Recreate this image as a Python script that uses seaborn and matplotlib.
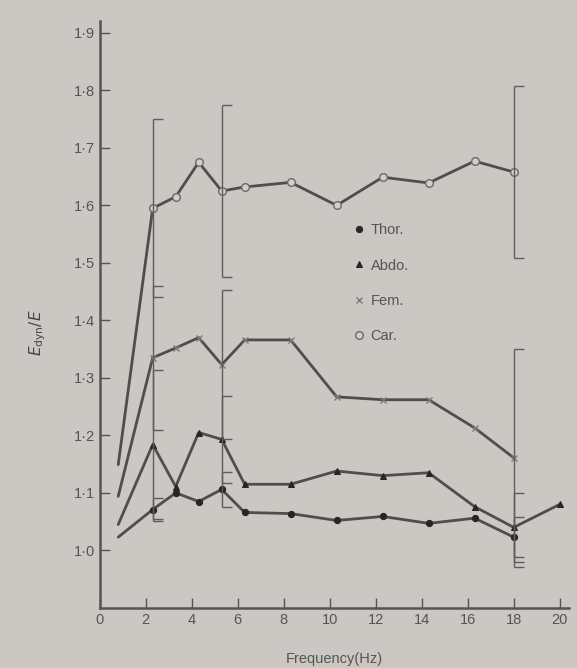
import matplotlib
matplotlib.use("Agg")
import matplotlib.pyplot as plt
import seaborn as sns
import pandas as pd

# ---- data ----
freq = [0.8, 2.3, 3.3, 4.3, 5.3, 6.3, 8.3, 10.3, 12.3, 14.3, 16.3, 18.0]
freq_abdo = freq + [20.0]
thor = [1.023, 1.071, 1.100, 1.085, 1.106, 1.066, 1.064, 1.052, 1.059, 1.047, 1.056, 1.023]
abdo = [1.045, 1.184, 1.111, 1.205, 1.193, 1.115, 1.115, 1.138, 1.130, 1.135, 1.076, 1.040, 1.080]
fem = [1.094, 1.335, 1.352, 1.370, 1.323, 1.366, 1.366, 1.267, 1.262, 1.262, 1.213, 1.161]
car = [1.149, 1.595, 1.615, 1.675, 1.625, 1.632, 1.640, 1.600, 1.649, 1.639, 1.677, 1.658]

# error bars (frequency, value, half-width)
err_freq = [2.3, 5.3, 18.0]
car_err = [0.155, 0.150, 0.150]
fem_err = [0.125, 0.130, 0.190]
abdo_err = [0.130, 0.075, 0.060]
thor_err = [0.020, 0.030, 0.035]

yticks = [1.0, 1.1, 1.2, 1.3, 1.4, 1.5, 1.6, 1.7, 1.8, 1.9]
ytick_labels = ["1·0", "1·1", "1·2", "1·3", "1·4", "1·5", "1·6", "1·7", "1·8", "1·9"]
xticks = [0, 2, 4, 6, 8, 10, 12, 14, 16, 18, 20]
xtick_labels = ["0", "2", "4", "6", "8", "10", "12", "14", "16", "18", "20"]

series = [
    ("Thor.", freq, thor, thor_err, dict(marker="o", ms=4.5, mfc="#262626", mec="#262626")),
    ("Abdo.", freq_abdo, abdo, abdo_err, dict(marker="^", ms=5, mfc="#262626", mec="#262626")),
    ("Fem.", freq, fem, fem_err, dict(marker="x", ms=5, mec="#7a7a7a", mew=1.0)),
    ("Car.", freq, car, car_err, dict(marker="o", ms=5.5, mfc="#d2cec9", mec="#6a6a6a", mew=1.0)),
]

bg = "#cbc7c2"
line_col = "#4e4e4e"

sns.set_style("ticks")
plt.rcParams["font.family"] = ["Liberation Sans", "DejaVu Sans"]

fig = plt.figure(figsize=(5.77, 6.68), dpi=100, facecolor=bg)
ax = fig.add_axes([0.173, 0.090, 0.813, 0.878])
ax.set_facecolor(bg)

for name, xs, ys, errs, mk in series:
    df = pd.DataFrame({"Frequency": xs, "value": ys})
    sns.lineplot(data=df, x="Frequency", y="value", ax=ax, color=line_col,
                 lw=2.0, markevery=list(range(1, len(xs))), label=name, **mk)
    ev = [ys[xs.index(f)] for f in err_freq]
    ax.errorbar(err_freq, ev, yerr=errs, fmt="none", ecolor="#5e5e5e",
                elinewidth=1.0, capsize=0)
    ax.plot(err_freq, [v + e for v, e in zip(ev, errs)], ls="none", marker=1,
            ms=7, mew=1.0, color="#5e5e5e")
    ax.plot(err_freq, [v - e for v, e in zip(ev, errs)], ls="none", marker=1,
            ms=7, mew=1.0, color="#5e5e5e")

ax.set_xlim(0, 20.4)
ax.set_ylim(0.9, 1.92)
ax.set_yticks(yticks)
ax.set_yticklabels(ytick_labels)
ax.set_xticks(xticks)
ax.set_xticklabels(xtick_labels)
ax.tick_params(axis="both", direction="in", length=7, width=1.0,
               colors="#555555", labelsize=10.5, labelcolor="#555555")
for s in ["top", "right"]:
    ax.spines[s].set_visible(False)
for s in ["left", "bottom"]:
    ax.spines[s].set_color("#555555")
    ax.spines[s].set_linewidth(1.8)

ax.set_xlabel("Frequency(Hz)", fontsize=10.5, color="#555555", labelpad=18)
ax.set_ylabel(r"$E_{\mathrm{dyn}}/E$", fontsize=11, color="#444444")
ax.yaxis.set_label_coords(-0.11, 0.47)

leg = ax.legend(loc="upper left", bbox_to_anchor=(0.515, 0.678), frameon=False,
                fontsize=10.5, handlelength=0.6, handletextpad=0.5, labelspacing=1.45,
                labelcolor="#555555")
for h in leg.legend_handles:
    h.set_linestyle("none")

fig.savefig("out.png", dpi=100, facecolor=bg)
